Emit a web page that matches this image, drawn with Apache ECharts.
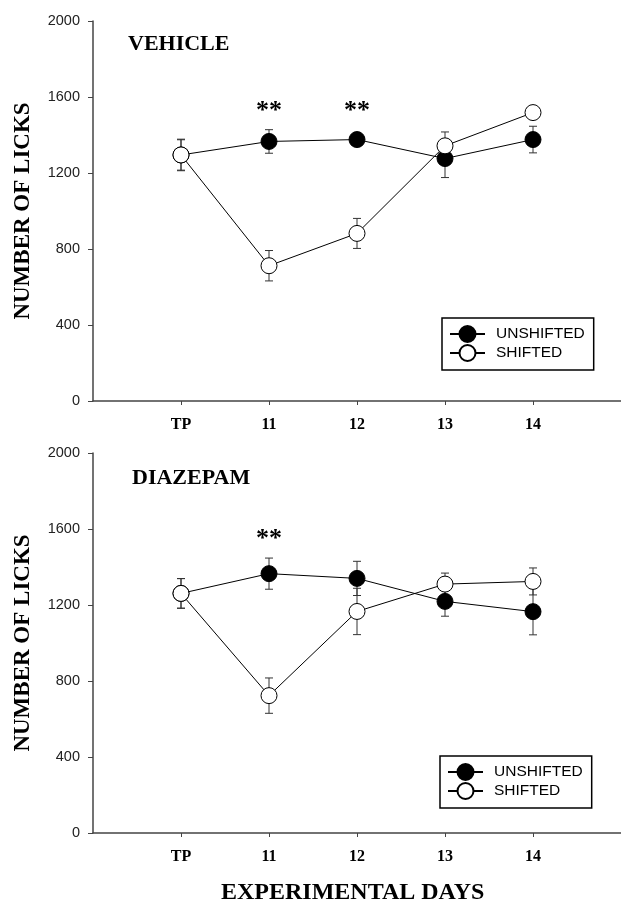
<!DOCTYPE html>
<html>
<head>
<meta charset="utf-8">
<script src="https://cdn.jsdelivr.net/npm/echarts@6/dist/echarts.min.js"></script>
<style>html,body{margin:0;padding:0;background:#fff}#c{width:621px;height:904px}</style>
</head>
<body>
<div id="c"></div>
<script>
// ---- data ----
var dayLabels = ['TP', '11', '12', '13', '14'];
var yTicks = [0, 400, 800, 1200, 1600, 2000];

var vehUnshifted   = [1295, 1366, 1376, 1276, 1376];
var vehUnshiftedSE = [80, 62, 30, 100, 70];
var vehShifted     = [1295, 712, 882, 1343, 1518];
var vehShiftedSE   = [83, 80, 79, 73, 30];
var vehSignificant = ['11', '12'];

var diaUnshifted   = [1261, 1365, 1340, 1219, 1165];
var diaUnshiftedSE = [78, 82, 90, 78, 122];
var diaShifted     = [1261, 723, 1166, 1310, 1324];
var diaShiftedSE   = [78, 93, 122, 58, 71];
var diaSignificant = ['11'];

// ---- helpers ----
function pts(vals) { return vals.map(function (v, i) { return [i + 1, v]; }); }
function errs(vals, se) { return vals.map(function (v, i) { return [i + 1, v - se[i], v + se[i]]; }); }
function renderErr(params, api) {
  var x = api.value(0), lo = api.value(1), hi = api.value(2);
  var p1 = api.coord([x, hi]), p2 = api.coord([x, lo]);
  var w = 4;
  var st = { stroke: '#333', lineWidth: 1 };
  return { type: 'group', children: [
    { type: 'line', shape: { x1: p1[0], y1: p1[1], x2: p2[0], y2: p2[1] }, style: st },
    { type: 'line', shape: { x1: p1[0] - w, y1: p1[1], x2: p1[0] + w, y2: p1[1] }, style: st },
    { type: 'line', shape: { x1: p2[0] - w, y1: p2[1], x2: p2[0] + w, y2: p2[1] }, style: st }
  ] };
}
var serif = 'Liberation Serif, Times New Roman, serif';
var sans = 'Liberation Sans, Arial, sans-serif';
var dayIdx = dayLabels.map(function (d, i) { return i + 1; });

function xAx(gi) {
  return {
    type: 'value', gridIndex: gi, min: 0, max: 6, interval: 1,
    axisLine: { lineStyle: { color: '#444', width: 1.5 } },
    axisTick: { show: true, length: 4, customValues: dayIdx, lineStyle: { color: '#444' } },
    axisLabel: { customValues: dayIdx, margin: 16, fontFamily: serif, fontWeight: 'bold', fontSize: 16, color: '#000',
      formatter: function (v) { return dayLabels[Math.round(v) - 1] || ''; } },
    splitLine: { show: false }
  };
}
function yAx(gi) {
  return {
    type: 'value', gridIndex: gi, min: yTicks[0], max: yTicks[yTicks.length - 1], interval: yTicks[1] - yTicks[0],
    name: 'NUMBER OF LICKS', nameLocation: 'middle', nameGap: 58,
    nameTextStyle: { fontFamily: serif, fontWeight: 'bold', fontSize: 23, color: '#000' },
    axisLine: { show: true, lineStyle: { color: '#444', width: 1.5 } },
    axisTick: { show: true, length: 5, lineStyle: { color: '#444' } },
    axisLabel: { margin: 13, fontFamily: sans, fontSize: 14.5, color: '#222',
      formatter: function (v) { return String(v); } },
    splitLine: { show: false }
  };
}
function lineSeries(name, vals, gi, filled, sig, sigY) {
  var s = {
    name: name, type: 'line', xAxisIndex: gi, yAxisIndex: gi,
    data: pts(vals), symbol: 'circle', symbolSize: 16, z: filled ? 3 : 4,
    lineStyle: { color: '#000', width: 1 },
    itemStyle: filled ? { color: '#000', borderColor: '#000', borderWidth: 1 } : { color: '#fff', borderColor: '#000', borderWidth: 1 },
    emphasis: { disabled: true }, animation: false
  };
  if (sig) {
    s.markPoint = {
      symbol: 'circle', symbolSize: 1, itemStyle: { color: 'rgba(0,0,0,0)' },
      label: { show: true, position: 'inside', formatter: '**', fontFamily: serif, fontWeight: 'bold', fontSize: 26, color: '#000' },
      data: sig.map(function (d) { return { coord: [dayLabels.indexOf(d) + 1, sigY] }; })
    };
  }
  return s;
}
function errSeries(vals, se, gi) {
  return { type: 'custom', xAxisIndex: gi, yAxisIndex: gi, renderItem: renderErr,
    data: errs(vals, se), encode: { x: 0, y: [1, 2] }, z: 2, silent: true, animation: false };
}
function legend(left, top) {
  return {
    orient: 'vertical', left: left, top: top, data: ['UNSHIFTED', 'SHIFTED'],
    itemWidth: 35, itemHeight: 20, itemGap: 1,
    padding: [7, 9, 8, 7], borderColor: '#000', borderWidth: 1.5, selectedMode: false,
    textStyle: { fontFamily: sans, fontSize: 15.5, color: '#000', padding: [0, 0, 0, 6] }
  };
}

var option = {
  backgroundColor: '#fff',
  animation: false,
  grid: [
    { left: 93, top: 21, width: 537, height: 380 },
    { left: 93, top: 453, width: 537, height: 380 }
  ],
  xAxis: [xAx(0), xAx(1)],
  yAxis: [yAx(0), yAx(1)],
  title: [
    { text: 'VEHICLE', left: 128, top: 33, padding: 0, textStyle: { fontFamily: serif, fontWeight: 'bold', fontSize: 22, color: '#000' } },
    { text: 'DIAZEPAM', left: 132, top: 467, padding: 0, textStyle: { fontFamily: serif, fontWeight: 'bold', fontSize: 22, color: '#000' } },
    { text: 'EXPERIMENTAL DAYS', left: 221, top: 881, padding: 0, textStyle: { fontFamily: serif, fontWeight: 'bold', fontSize: 24, color: '#000' } }
  ],
  legend: [legend(442, 318), legend(440, 756)],
  series: [
    errSeries(vehUnshifted, vehUnshiftedSE, 0),
    errSeries(vehShifted, vehShiftedSE, 0),
    lineSeries('UNSHIFTED', vehUnshifted, 0, true, vehSignificant, 1525),
    lineSeries('SHIFTED', vehShifted, 0, false),
    errSeries(diaUnshifted, diaUnshiftedSE, 1),
    errSeries(diaShifted, diaShiftedSE, 1),
    lineSeries('UNSHIFTED', diaUnshifted, 1, true, diaSignificant, 1545),
    lineSeries('SHIFTED', diaShifted, 1, false)
  ]
};
var chart = echarts.init(document.getElementById('c'), null, { renderer: 'canvas' });
chart.setOption(option);
</script>
</body>
</html>
